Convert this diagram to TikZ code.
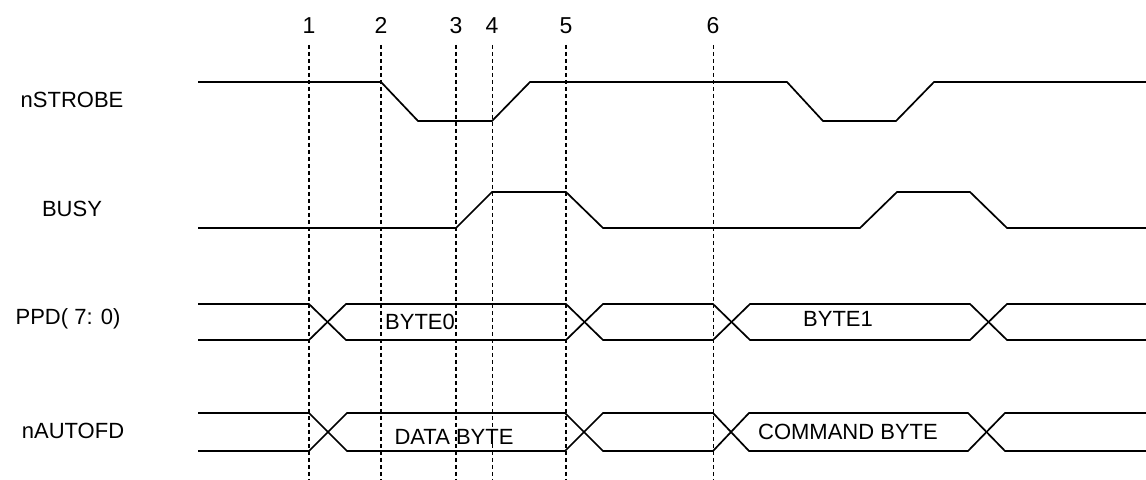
\documentclass[tikz,border=0pt]{standalone}
\usepackage{fontspec}
\setmainfont{Liberation Sans}
\usepackage{tikz}

\tikzset{
    wave/.style={line width=0.85pt},
    marker/.style={dash pattern=on 2pt off 1.5pt, line width=1pt},
    thinmarker/.style={dash pattern=on 2pt off 1.5pt, line width=0.5pt},
    siglabel/.style={inner sep=0pt, font=\fontsize{11}{13}\selectfont},
    num/.style={inner sep=0pt, anchor=base, font=\fontsize{11.5}{13}\selectfont},
}

\begin{document}
\begin{tikzpicture}[x=0.5pt, y=-0.5pt]
            \useasboundingbox (0,0) rectangle (1146,480);
            % time markers
            \foreach \i/\x in {1/309, 2/381, 3/456, 5/566} {
                \node[num] (n\i) at (\x,34) {\i};
                \draw[marker] (\x,45) -- (\x,480);
            }
            \foreach \i/\x in {4/492, 6/713} {
                \node[num] (n\i) at (\x,34) {\i};
                \draw[thinmarker] (\x,45) -- (\x,480);
            }
            % signal names
            \node[siglabel] (strobe) at (72,100) {nSTROBE};
            \node[siglabel] (busy) at (72,209) {BUSY};
            \node[siglabel] (ppd) at (68,319) {PPD( 7: 0)};
            \node[siglabel] (autofd) at (73,431) {nAUTOFD};
            % nSTROBE
            \draw[wave] (198,82) -- (381,82) -- (418,121) -- (492,121) -- (530,82)
                -- (787,82) -- (823,121) -- (896,121) -- (934,82) -- (1146,82);
            % BUSY
            \draw[wave] (198,228) -- (456,228) -- (492,192) -- (566,192) -- (603,228)
                -- (860,228) -- (897,192) -- (970,192) -- (1007,228) -- (1146,228);
            % PPD bus
            \draw[wave] (198,304) -- (309,304) -- (346,340) -- (566,340) -- (603,304)
                -- (713,304) -- (750,340) -- (970,340) -- (1007,304) -- (1146,304);
            \draw[wave] (198,340) -- (309,340) -- (346,304) -- (566,304) -- (603,340)
                -- (713,340) -- (750,304) -- (970,304) -- (1007,340) -- (1146,340);
            \node[siglabel] (byte0) at (420,322) {BYTE0};
            \node[siglabel] (byte1) at (838,319) {BYTE1};
            % nAUTOFD bus
            \draw[wave] (198,413) -- (309,413) -- (347,451) -- (565,451) -- (603,413)
                -- (713,413) -- (749,451) -- (968,451) -- (1005,413) -- (1146,413);
            \draw[wave] (198,451) -- (309,451) -- (347,413) -- (565,413) -- (603,451)
                -- (713,451) -- (749,413) -- (968,413) -- (1005,451) -- (1146,451);
            \node[siglabel] (databyte) at (454,437) {DATA BYTE};
            \node[siglabel] (cmdbyte) at (848,432) {COMMAND BYTE};
        \end{tikzpicture}
\end{document}
